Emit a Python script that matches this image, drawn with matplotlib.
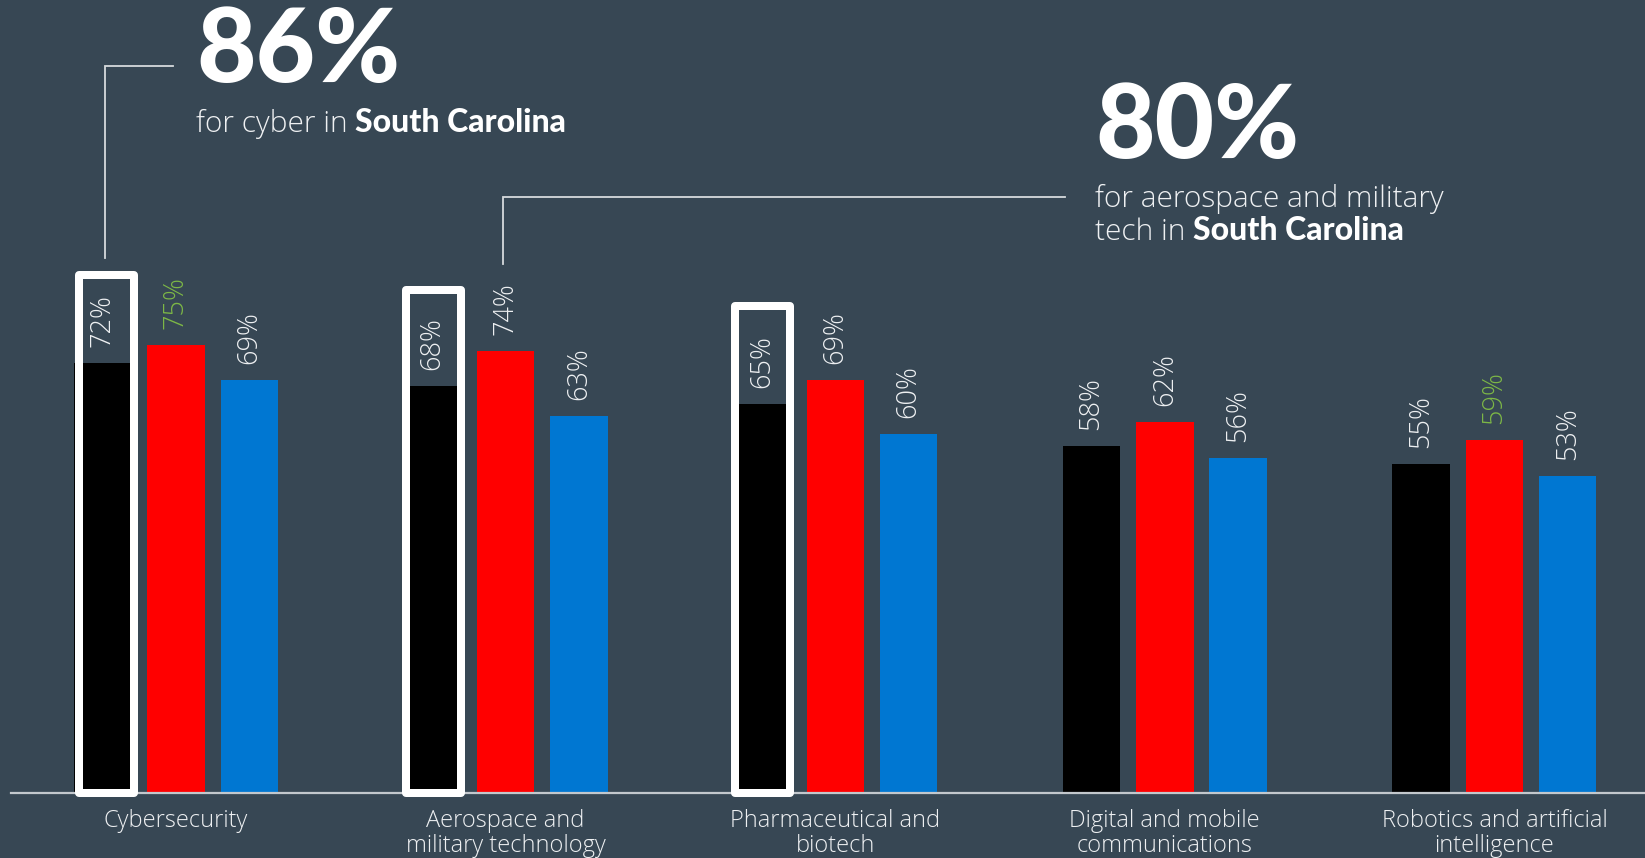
import numpy as np
import matplotlib
matplotlib.use("Agg")
import matplotlib.pyplot as plt
from matplotlib.patches import Rectangle

plt.rcParams['font.family'] = ['Open Sans', 'DejaVu Sans']
LIGHT = dict(family=['Open Sans', 'DejaVu Sans'], fontweight='light')
HEAVY = dict(family=['Lato', 'DejaVu Sans'], fontweight='black')

# --- Data ---
categories = ["Cybersecurity", "Aerospace and\nmilitary technology", "Pharmaceutical and\nbiotech",
              "Digital and mobile\ncommunications", "Robotics and artificial\nintelligence"]
black_vals = [72, 68, 65, 58, 55]
red_vals = [75, 74, 69, 62, 59]
blue_vals = [69, 63, 60, 56, 53]
box_tops = [86, 83.5, 80.8]          # white outline boxes on the first three black bars
green_labels = [(1, 0), (1, 4)]     # (series, group) labels shown in green

BG = '#374754'
BAR_COLORS = ['#000000', '#ff0000', '#0077d2']
TXT = '#eef0f2'
GREEN = '#7db846'

W, H = 1645, 858
BASE_PX = 792          # baseline, pixels from top
PX_PER = 5.965         # pixels per percent
GROUP_PX = 329.6       # group pitch in pixels
X0_PX = 176            # centre of first group
BOX_SHIFT_PX = [4, 1.5, 0.5]

fig = plt.figure(figsize=(W / 100, H / 100), dpi=100, facecolor=BG)
ax = fig.add_axes([0, 0, 1, 1])
ax.set_facecolor(BG)
ax.axis('off')
ax.set_xlim(-X0_PX / GROUP_PX, (W - X0_PX) / GROUP_PX)
ax.set_ylim((BASE_PX - H) / PX_PER, BASE_PX / PX_PER)


def px_x(px):
    return (px - X0_PX) / GROUP_PX


def px_y(px):
    return (BASE_PX - px) / PX_PER


x = np.arange(len(categories))
width = 57.4 / GROUP_PX
off = 73.3 / GROUP_PX

# --- Bars and value labels ---
for s, (vals, col) in enumerate(zip([black_vals, red_vals, blue_vals], BAR_COLORS)):
    xs = x + (s - 1) * off
    ax.bar(xs, vals, width, color=col, zorder=2)
    for g, (xi, v) in enumerate(zip(xs, vals)):
        c = GREEN if (s, g) in green_labels else TXT
        ax.text(xi, v + 16 / PX_PER, f"{v}%", rotation=90, ha='center', va='bottom',
                fontsize=19.5, color=c, zorder=4, **LIGHT)

# --- Baseline ---
ax.axhline(-0.1, xmin=11 / W, xmax=1, color='#c3c8cd', lw=1.6, zorder=3)

# --- White boxes around highlighted black bars ---
lw_px = 8
for g, top in enumerate(box_tops):
    cx = x[g] - off + BOX_SHIFT_PX[g] / GROUP_PX
    bw = 55.3 / GROUP_PX
    y0 = -0.2
    y1 = top + (lw_px / 2) / PX_PER
    ax.add_patch(Rectangle((cx - bw / 2, y0), bw, y1 - y0, fill=False, ec='white',
                           lw=lw_px * 0.72, joinstyle='round', zorder=5))

# --- Connector lines ---
line_kw = dict(color='#d6dadd', lw=1.3, zorder=3, solid_joinstyle='miter')
xa = x[0] - off + 2 / GROUP_PX
ax.plot([xa, xa, px_x(173)], [px_y(258), px_y(66), px_y(66)], **line_kw)
xb = x[1] - 3 / GROUP_PX
ax.plot([xb, xb, px_x(1065)], [px_y(264), px_y(196.5), px_y(196.5)], **line_kw)

# --- Category labels ---
for xi, cat in zip(x, categories):
    ax.text(xi, px_y(809), cat, ha='center', va='top', fontsize=17,
            color=TXT, linespacing=1.05, **LIGHT)


# --- Callout texts ---
def fx(px):
    return px / W


def fy(px):
    return 1 - px / H


fig.text(fx(196), fy(82), "86%", fontsize=74, color='white', va='baseline', **HEAVY)
fig.text(fx(1095), fy(158), "80%", fontsize=74, color='white', va='baseline', **HEAVY)

renderer = fig.canvas.get_renderer()


def mixed_line(px_left, px_base, light, bold, size=21.5):
    t = fig.text(fx(px_left), fy(px_base), light, fontsize=size,
                 color=TXT, va='baseline', **LIGHT)
    bb = t.get_window_extent(renderer=renderer)
    fig.text(bb.x1 / W, fy(px_base), bold, fontsize=size + 1.5,
             color='white', va='baseline', **HEAVY)


mixed_line(196, 132, "for cyber in ", "South Carolina")
fig.text(fx(1095), fy(207), "for aerospace and military", fontsize=21.5,
         color=TXT, va='baseline', **LIGHT)
mixed_line(1095, 240, "tech in ", "South Carolina")

fig.savefig("out.png", dpi=100, facecolor=BG)
